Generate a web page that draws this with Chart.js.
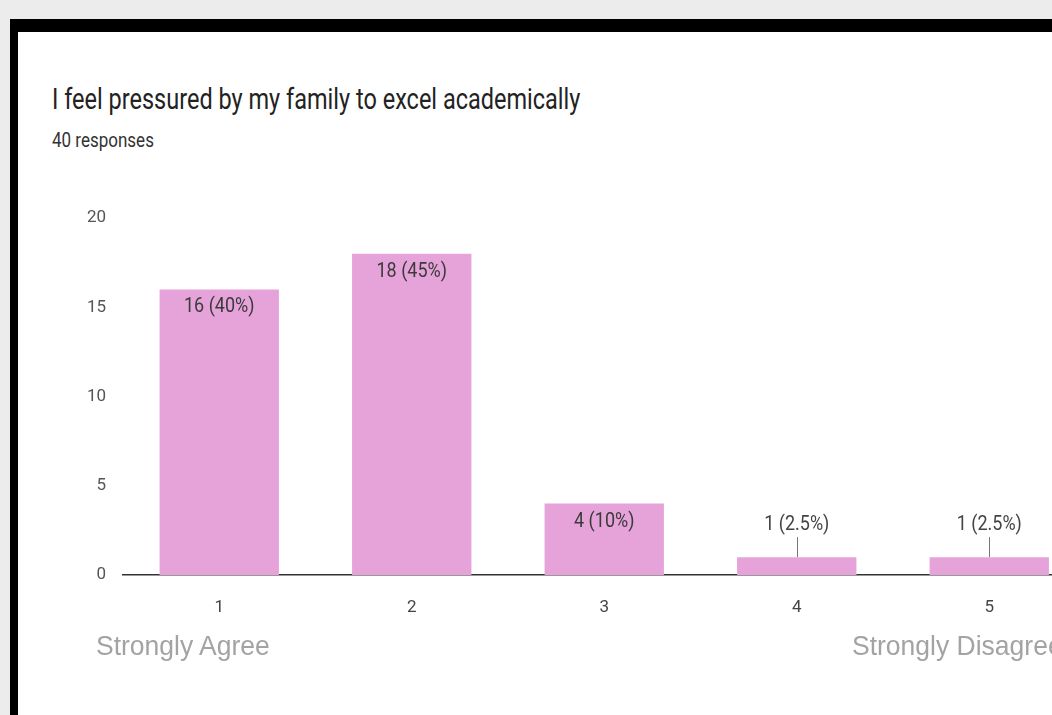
<!DOCTYPE html>
<html lang="en">

<head>
  <meta charset="UTF-8" />
  <meta name="viewport" content="width=device-width, initial-scale=1.0" />
  <title>Family pressure survey</title>
  <script src="https://cdn.jsdelivr.net/npm/chart.js@4.4.1/dist/chart.umd.min.js"></script>
  <style>
    html, body { margin: 0; padding: 0; }
    body {
      width: 1052px; height: 715px; overflow: hidden;
      background: #ececec; position: relative;
      font-family: Roboto, "Noto Sans", sans-serif;
    }
    #frame {
      position: absolute; left: 10px; top: 19px; right: -20px; bottom: -20px;
      border-left: 8px solid #000; border-top: 13px solid #000;
      background: #fff;
    }
    .title {
      position: absolute; left: 52px; top: 85px; margin: 0;
      font-size: 23.5px; line-height: 23.5px; font-weight: 400; color: #222;
      transform: scaleY(1.28); transform-origin: left top; white-space: nowrap;
    }
    .sub {
      position: absolute; left: 52px; top: 131px;
      font-size: 17px; line-height: 17px; color: #333;
      transform: scaleY(1.15); transform-origin: left top; white-space: nowrap;
    }
    .scale-end {
      position: absolute; top: 632px;
      font-family: "Liberation Sans", Arial, sans-serif;
      font-size: 26.5px; line-height: 26.5px; color: #a3a3a3;
      transform: scaleY(1.03); transform-origin: left top; white-space: nowrap;
    }
    #chartBox { position: absolute; left: 60px; top: 180px; width: 1040px; height: 450px; }
  </style>
</head>

<body>
  <div id="frame"></div>
  <h1 class="title">I feel pressured by my family to excel academically</h1>
  <div class="sub">40 responses</div>
  <div id="chartBox"><canvas id="surveyChart"></canvas></div>
  <div class="scale-end" style="left: 96px;">Strongly Agree</div>
  <div class="scale-end" style="left: 852px;">Strongly Disagree</div>

  <script>
    // answers on the 1..5 scale
    const categories = ["1", "2", "3", "4", "5"];
    const counts = [16, 18, 4, 1, 1];
    const percents = ["40%", "45%", "10%", "2.5%", "2.5%"];
    const yTicks = [0, 5, 10, 15, 20];

    const barColor = "#e6a3d9";

    // "16 (40%)" labels, inside tall bars, above short ones with a small leader line
    const countLabels = {
      id: "countLabels",
      afterDatasetsDraw(chart) {
        const ctx = chart.ctx;
        const meta = chart.getDatasetMeta(0);
        ctx.save();
        ctx.font = "18px Roboto";
        ctx.textAlign = "center";
        ctx.textBaseline = "middle";
        meta.data.forEach((bar, i) => {
          const text = counts[i] + " (" + percents[i] + ")";
          const h = bar.base - bar.y;
          let cy;
          if (h > 40) {
            cy = bar.y + 18;
            ctx.fillStyle = "#3a3a3a";
          } else {
            cy = bar.y - 32;
            ctx.fillStyle = "#444";
            ctx.strokeStyle = "#777";
            ctx.lineWidth = 1;
            ctx.beginPath();
            ctx.moveTo(Math.round(bar.x) + 0.5, cy + 12);
            ctx.lineTo(Math.round(bar.x) + 0.5, bar.y);
            ctx.stroke();
          }
          ctx.save();
          ctx.translate(bar.x, cy);
          ctx.scale(1, 1.1);
          ctx.fillText(text, 0, 0);
          ctx.restore();
        });
        ctx.restore();
      }
    };

    const surveyChart = new Chart(document.getElementById("surveyChart").getContext("2d"), {
      type: "bar",
      data: {
        labels: categories,
        datasets: [{
          data: counts,
          backgroundColor: barColor,
          borderWidth: 0,
          barPercentage: 0.62,
          categoryPercentage: 1.0,
        }],
      },
      options: {
        responsive: true,
        maintainAspectRatio: false,
        animation: false,
        layout: { padding: { top: 38, right: 14.5, left: 0, bottom: 0 } },
        plugins: { legend: { display: false }, tooltip: { enabled: false } },
        scales: {
          y: {
            min: yTicks[0],
            max: yTicks[yTicks.length - 1],
            afterBuildTicks: (s) => { s.ticks = yTicks.map((v) => ({ value: v })); },
            afterFit: (s) => { s.width = 63; },
            grid: { display: false },
            border: { display: false },
            ticks: { padding: 9, color: "#555", font: { family: "Roboto", size: 17 } },
          },
          x: {
            afterFit: (s) => { s.height = 55; },
            grid: { display: false },
            border: { display: true, color: "#333", width: 1.5 },
            ticks: { padding: 15, color: "#444", font: { family: "Roboto", size: 17 } },
          },
        },
      },
      plugins: [countLabels],
    });
  </script>
</body>

</html>
